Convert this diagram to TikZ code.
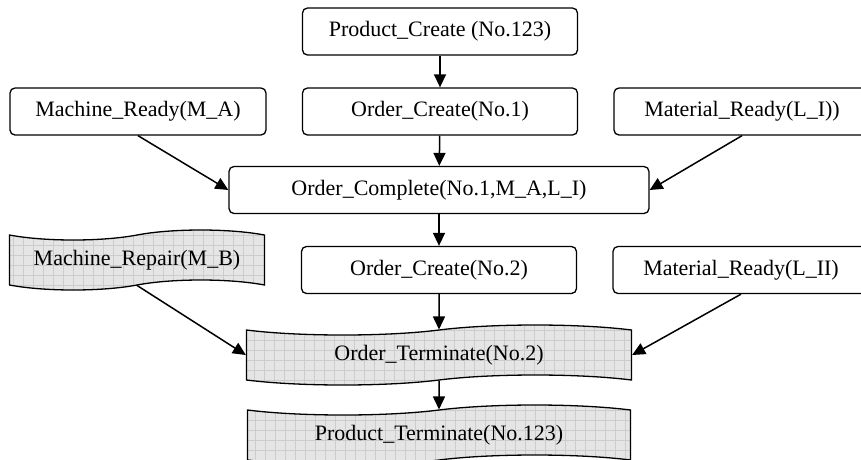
\documentclass[tikz,border=0pt]{standalone}
\usepackage{fontspec}
\setmainfont{Liberation Serif}
\usetikzlibrary{arrows.meta,shapes.symbols}
\tikzstyle{event} = [rectangle, rounded corners=5pt, text centered, draw=black, line width=1.3pt, minimum height=47pt, inner sep=0pt]
\tikzstyle{fault} = [tape, tape bend top=in and out, tape bend bottom=in and out, tape bend height=10pt, text centered, draw=black, line width=1.3pt, fill=gray!20, minimum height=60pt, inner sep=0pt, path picture={\draw[step=10pt, gray!40, line width=0.5pt] (path picture bounding box.south west) grid (path picture bounding box.north east);}]
\tikzstyle{arrow} = [line width=1.5pt, -{Triangle[length=13pt,width=12pt]}]

\begin{document}
\begin{tikzpicture}[node distance=80pt, font=\fontsize{22}{26}\selectfont]

\clip (-440pt,31.5pt) rectangle (421pt,-427.5pt);

\node (pc) [event, minimum width=275pt] {Product\_Create (No.123)};
\node (oc1) [event, below of=pc, minimum width=275pt] {Order\_Create(No.1)};
\node (mr) [event, left of=oc1, xshift=-222pt, minimum width=256pt] {Machine\_Ready(M\_A)};
\node (ml1) [event, right of=oc1, xshift=222pt, minimum width=256pt] {Material\_Ready(L\_I))};

\node (ocp) [event, below of=oc1, yshift=1.5pt, xshift=-1pt, minimum width=420pt] {Order\_Complete(No.1,M\_A,L\_I)};

\node (oc2) [event, below of=ocp, minimum width=275pt] {Order\_Create(No.2)};
\node (mrep) [fault, left of=oc2, xshift=-222pt, yshift=10pt, minimum width=255pt] {Machine\_Repair(M\_B)};
\node (ml2) [event, right of=oc2, xshift=222pt, minimum width=256pt] {Material\_Ready(L\_II)};

\node (ot) [fault, below of=oc2, yshift=-5pt, minimum width=385pt] {Order\_Terminate(No.2)};
\node (pt) [fault, below of=ot, minimum width=383pt] {Product\_Terminate(No.123)};

\draw [arrow] (pc) -- (oc1);
\draw [arrow] (oc1) -- (ocp);
\draw [arrow] (mr.south) -- (ocp.west);
\draw [arrow] (ml1.south) -- (ocp.east);
\draw [arrow] (ocp) -- (oc2);
\draw [arrow] (mrep.south) -- (ot.west);
\draw [arrow] (oc2) -- (ot);
\draw [arrow] (ml2.south) -- (ot.east);
\draw [arrow] (ot) -- (pt);

\end{tikzpicture}
\end{document}
